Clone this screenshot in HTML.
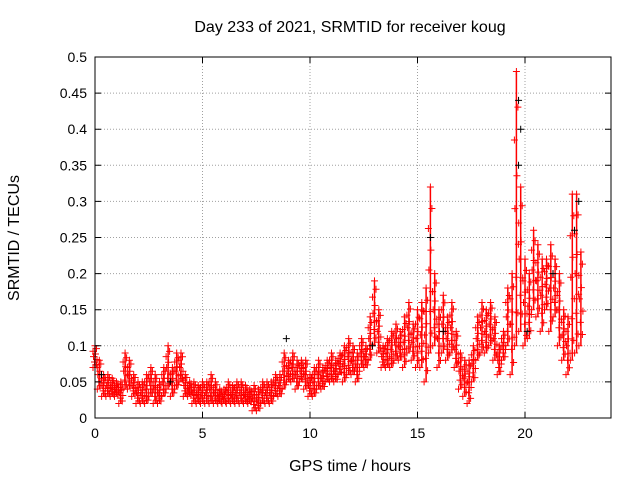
<!DOCTYPE html>
<html><head><meta charset="utf-8"><style>
body{margin:0;background:#fff}
svg{display:block;font-family:"Liberation Sans",sans-serif}
</style></head><body>
<svg id="chart" width="640" height="480">
<text x="350" y="32" text-anchor="middle" font-size="16">Day 233 of 2021, SRMTID for receiver koug</text>
<text x="350" y="471" text-anchor="middle" font-size="16">GPS time / hours</text>
<text transform="translate(19,238) rotate(-90)" text-anchor="middle" font-size="16">SRMTID / TECUs</text>
<g id="grid"></g><g id="marks"></g><g id="axes"></g>
</svg>
<script>
const xTicks=[0,5,10,15,20];
const yTicks=[0,0.05,0.1,0.15,0.2,0.25,0.3,0.35,0.4,0.45,0.5];
const yTickLabels=["0","0.05","0.1","0.15","0.2","0.25","0.3","0.35","0.4","0.45","0.5"];
const tStart=0, tStep=0.2;
const lo=[.07,.04,.03,.03,.03,.03,.02,.04,.04,.03,.02,.02,.02,.03,.02,.02,.03,.04,.03,.04,.05,.03,.03,.02,.02,.02,.02,.02,.02,.02,.02,.02,.02,.02,.02,.02,.02,.01,.01,.02,.02,.02,.03,.03,.04,.05,.05,.04,.05,.04,.03,.03,.04,.04,.05,.05,.05,.06,.05,.06,.06,.05,.07,.07,.08,.10,.09,.07,.07,.07,.08,.08,.07,.09,.08,.07,.07,.05,.09,.10,.07,.09,.08,.09,.07,.04,.03,.02,.05,.08,.09,.09,.10,.08,.06,.08,.10,.06,.10,.12,.10,.11,.15,.14,.12,.15,.12,.14,.10,.08,.06,.08,.09,.10];
const hi=[.10,.08,.06,.06,.055,.05,.05,.09,.08,.06,.05,.05,.06,.07,.06,.05,.07,.10,.07,.09,.09,.06,.05,.05,.045,.05,.05,.06,.05,.04,.04,.05,.045,.05,.05,.045,.04,.045,.04,.05,.05,.05,.06,.06,.09,.08,.09,.08,.08,.08,.06,.07,.08,.07,.08,.09,.08,.09,.10,.11,.10,.09,.11,.10,.14,.19,.15,.10,.11,.12,.13,.12,.14,.16,.13,.15,.16,.18,.32,.20,.15,.17,.14,.16,.12,.09,.08,.08,.10,.14,.16,.15,.16,.14,.10,.12,.18,.20,.48,.32,.22,.20,.26,.24,.22,.22,.24,.22,.20,.15,.14,.31,.31,.23];
const blackT=[0.3,3.5,8.9,12.9,15.6,16.2,19.7,19.7,19.8,20.1,21.3,22.3,22.5];
const blackV=[0.06,0.05,0.11,0.10,0.25,0.12,0.44,0.35,0.40,0.12,0.20,0.26,0.30];
const X0=95,X1=611,Y0=418,Y1=57,XMAX=24,YMAX=0.5;
const xs=t=>X0+(X1-X0)*t/XMAX, ys=v=>Y0-(Y0-Y1)*v/YMAX;
const NS="http://www.w3.org/2000/svg";
function mk(tag,attrs,parent){const e=document.createElementNS(NS,tag);for(const k in attrs)e.setAttribute(k,attrs[k]);parent.appendChild(e);return e;}
const grid=document.getElementById('grid'),marks=document.getElementById('marks'),axes=document.getElementById('axes');
xTicks.forEach((t,i)=>{const x=xs(t);
 if(t>0){const g=mk('line',{x1:x,x2:x,y1:Y0,y2:Y1,stroke:'#a0a0a0','stroke-dasharray':'1,2'},grid);}
 const tk=mk('path',{d:`M${x},${Y0}v-6M${x},${Y1}v6`,stroke:'#000'},axes);
 const l=mk('text',{x:x,y:Y0+20,'text-anchor':'middle','font-size':14},axes);l.textContent=String(t);});
yTicks.forEach((v,i)=>{const y=ys(v);
 if(v>0&&v<YMAX){const g=mk('line',{x1:X0,x2:X1,y1:y,y2:y,stroke:'#a0a0a0','stroke-dasharray':'1,2'},grid);}
 const tk=mk('path',{d:`M${X0},${y}h6M${X1},${y}h-6`,stroke:'#000'},axes);
 const l=mk('text',{x:X0-8,y:y+5,'text-anchor':'end','font-size':14},axes);l.textContent=yTickLabels[i];});
const fr=mk('rect',{x:X0,y:Y1,width:X1-X0,height:Y0-Y1,fill:'none',stroke:'#000'},axes);

function plus(x,y,c){const p=mk('path',{d:`M${x-3.5},${y}h7M${x},${y-3.5}v7`,stroke:c,'stroke-width':1},marks);return p;}
const fracs=[0,0.12,0.25,0.37,0.5,0.62,0.75,0.87,1];
const offs=[-2,1.5,-0.5,2,-1.5,0.5,-2,1.5,0];
lo.forEach((v,i)=>{const x=xs(tStart+i*tStep),y1=ys(v),y2=ys(hi[i]);
 const b=mk('line',{x1:x,x2:x,y1:y1,y2:y2,stroke:'#f00','stroke-width':1.5},marks);
 
 fracs.forEach((f,k)=>{const y=y1+(y2-y1)*f;const p=plus(x+offs[k],y,'#f00');});
});
blackT.forEach((t,i)=>{const p=plus(xs(t),ys(blackV[i]),'#000');});
</script>
</body></html>
